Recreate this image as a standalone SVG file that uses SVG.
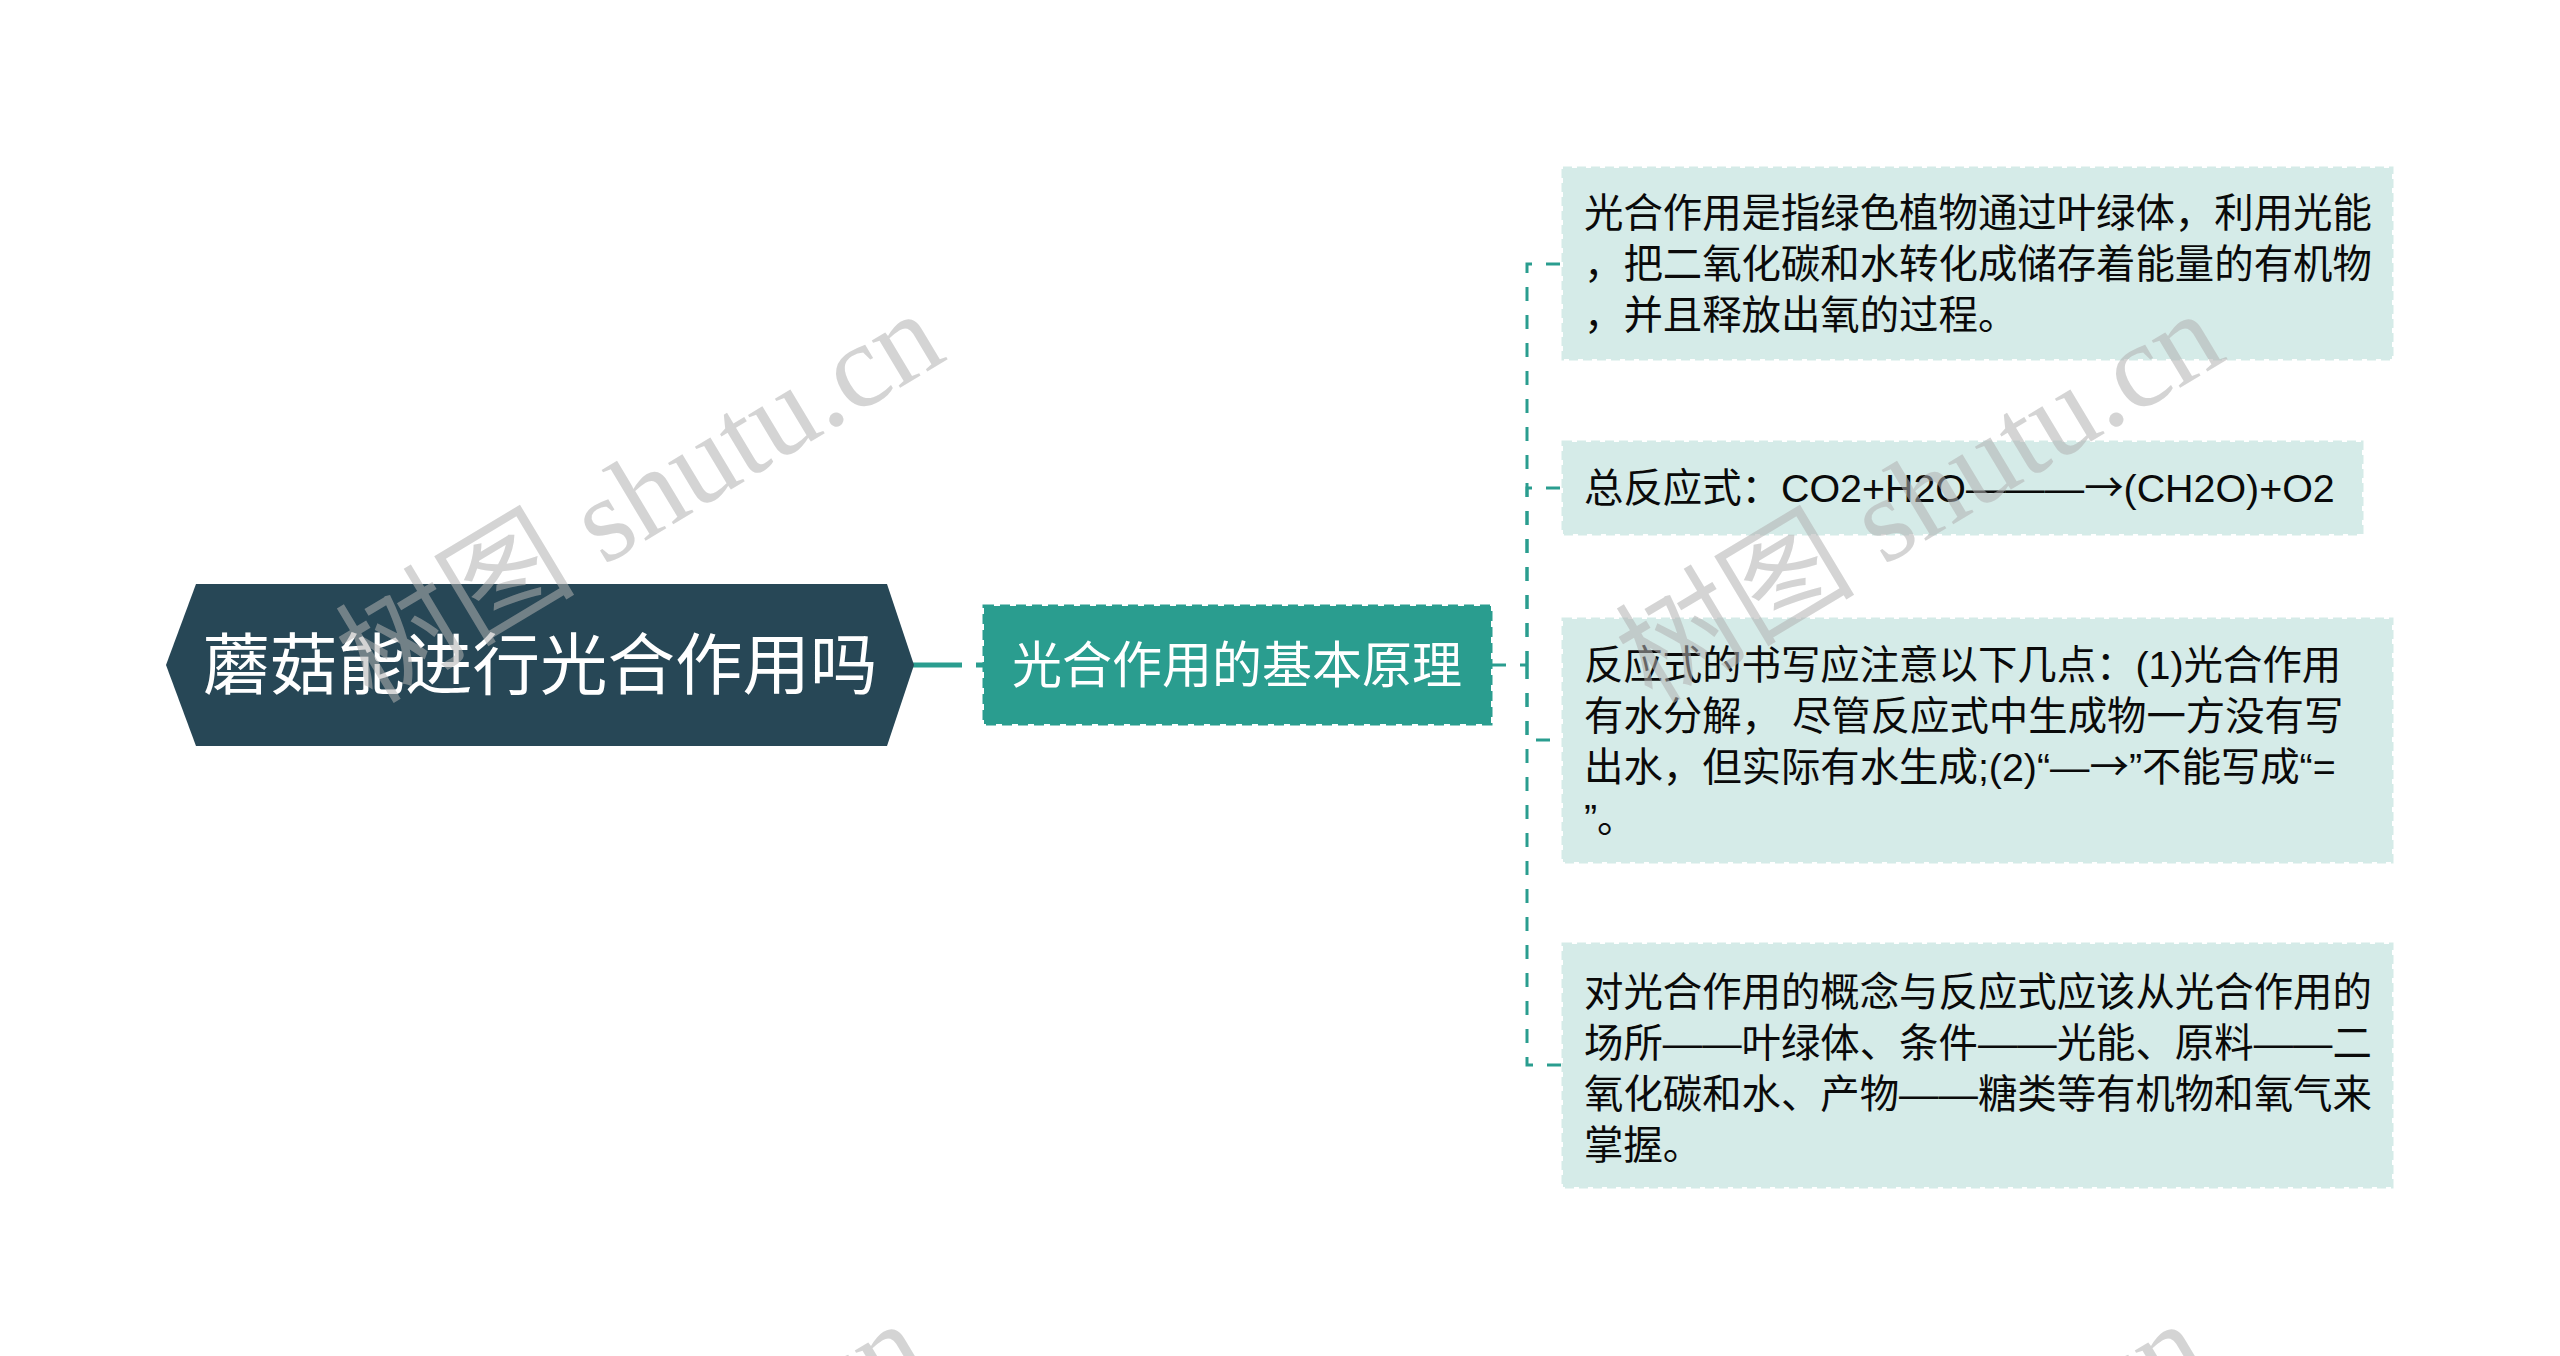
<svg xmlns="http://www.w3.org/2000/svg" width="2560" height="1356" viewBox="0 0 2560 1356">
<defs>
<style>
.bg{fill:#ffffff}
.conn{fill:none;stroke:#2a9d8f;stroke-width:3;stroke-dasharray:14 14}
.box{fill:#d5ebe8;stroke:#d5ebe8;stroke-width:3;stroke-dasharray:9 5}
.txt{font-family:"Liberation Sans","Noto Sans CJK SC",sans-serif;font-size:39.4px;fill:#0a0a0a}
.arr{font-family:"Noto Sans CJK SC",sans-serif}
.wm{font-family:"Liberation Serif","Noto Sans CJK SC",serif;font-size:120px;fill:#b0b0b0;fill-opacity:0.55}
</style>
</defs>
<rect class="bg" x="0" y="0" width="2560" height="1356"/>

<g id="connectors">
<path d="M912,665 H984" fill="none" stroke="#2a9d8f" stroke-width="5" stroke-dasharray="50 14"/>
<path class="conn" d="M1492,665 H1527"/>
<path class="conn" d="M1527,665 V264 H1563"/>
<path class="conn" d="M1527,665 V488 H1563"/>
<path class="conn" d="M1527,665 V740 H1563"/>
<path class="conn" d="M1527,665 V1065 H1563"/>
</g>

<g id="root">
<polygon points="166,665 196,584 887,584 914,665 887,746 196,746" fill="#274756"/>
<text x="540" y="689" text-anchor="middle" font-family="'Liberation Sans','Noto Sans CJK SC',sans-serif" font-size="67.5" fill="#ffffff">蘑菇能进行光合作用吗</text>
</g>

<g id="main">
<rect x="984" y="606" width="507" height="118" fill="#2a9d8f" stroke="#2a9d8f" stroke-width="3" stroke-dasharray="10 6"/>
<text x="1237" y="683" text-anchor="middle" font-family="'Liberation Sans','Noto Sans CJK SC',sans-serif" font-size="50" fill="#ffffff">光合作用的基本原理</text>
</g>

<g id="child1">
<rect class="box" x="1563" y="168" width="829" height="191"/>
<text class="txt"><tspan x="1584" y="227">光合作用是指绿色植物通过叶绿体，利用光能</tspan><tspan x="1584" y="278">，把二氧化碳和水转化成储存着能量的有机物</tspan><tspan x="1584" y="329">，并且释放出氧的过程。</tspan></text>
</g>

<g id="child2">
<rect class="box" x="1563" y="442" width="799" height="92"/>
<text class="txt" x="1584" y="502">总反应式：CO2+H2O———<tspan class="arr">→</tspan>(CH2O)+O2</text>
</g>

<g id="child3">
<rect class="box" x="1563" y="619" width="829" height="243"/>
<text class="txt"><tspan x="1584" y="679">反应式的书写应注意以下几点：(1)光合作用</tspan><tspan x="1584" y="730">有水分解， 尽管反应式中生成物一方没有写</tspan><tspan x="1584" y="781">出水，但实际有水生成;(2)“—<tspan class="arr">→</tspan>”不能写成“=</tspan><tspan x="1584" y="832">”。</tspan></text>
</g>

<g id="child4">
<rect class="box" x="1563" y="944" width="829" height="243"/>
<text class="txt"><tspan x="1584" y="1006">对光合作用的概念与反应式应该从光合作用的</tspan><tspan x="1584" y="1057">场所——叶绿体、条件——光能、原料——二</tspan><tspan x="1584" y="1108">氧化碳和水、产物——糖类等有机物和氧气来</tspan><tspan x="1584" y="1159">掌握。</tspan></text>
</g>

<g id="watermarks">
<text class="wm" transform="translate(372,705) rotate(-31)">树图 shutu.cn</text>
<text class="wm" transform="translate(1652,705) rotate(-31)">树图 shutu.cn</text>
<text class="wm" transform="translate(355,1715) rotate(-31)">树图 shutu.cn</text>
<text class="wm" transform="translate(1635,1715) rotate(-31)">树图 shutu.cn</text>
</g>
</svg>
